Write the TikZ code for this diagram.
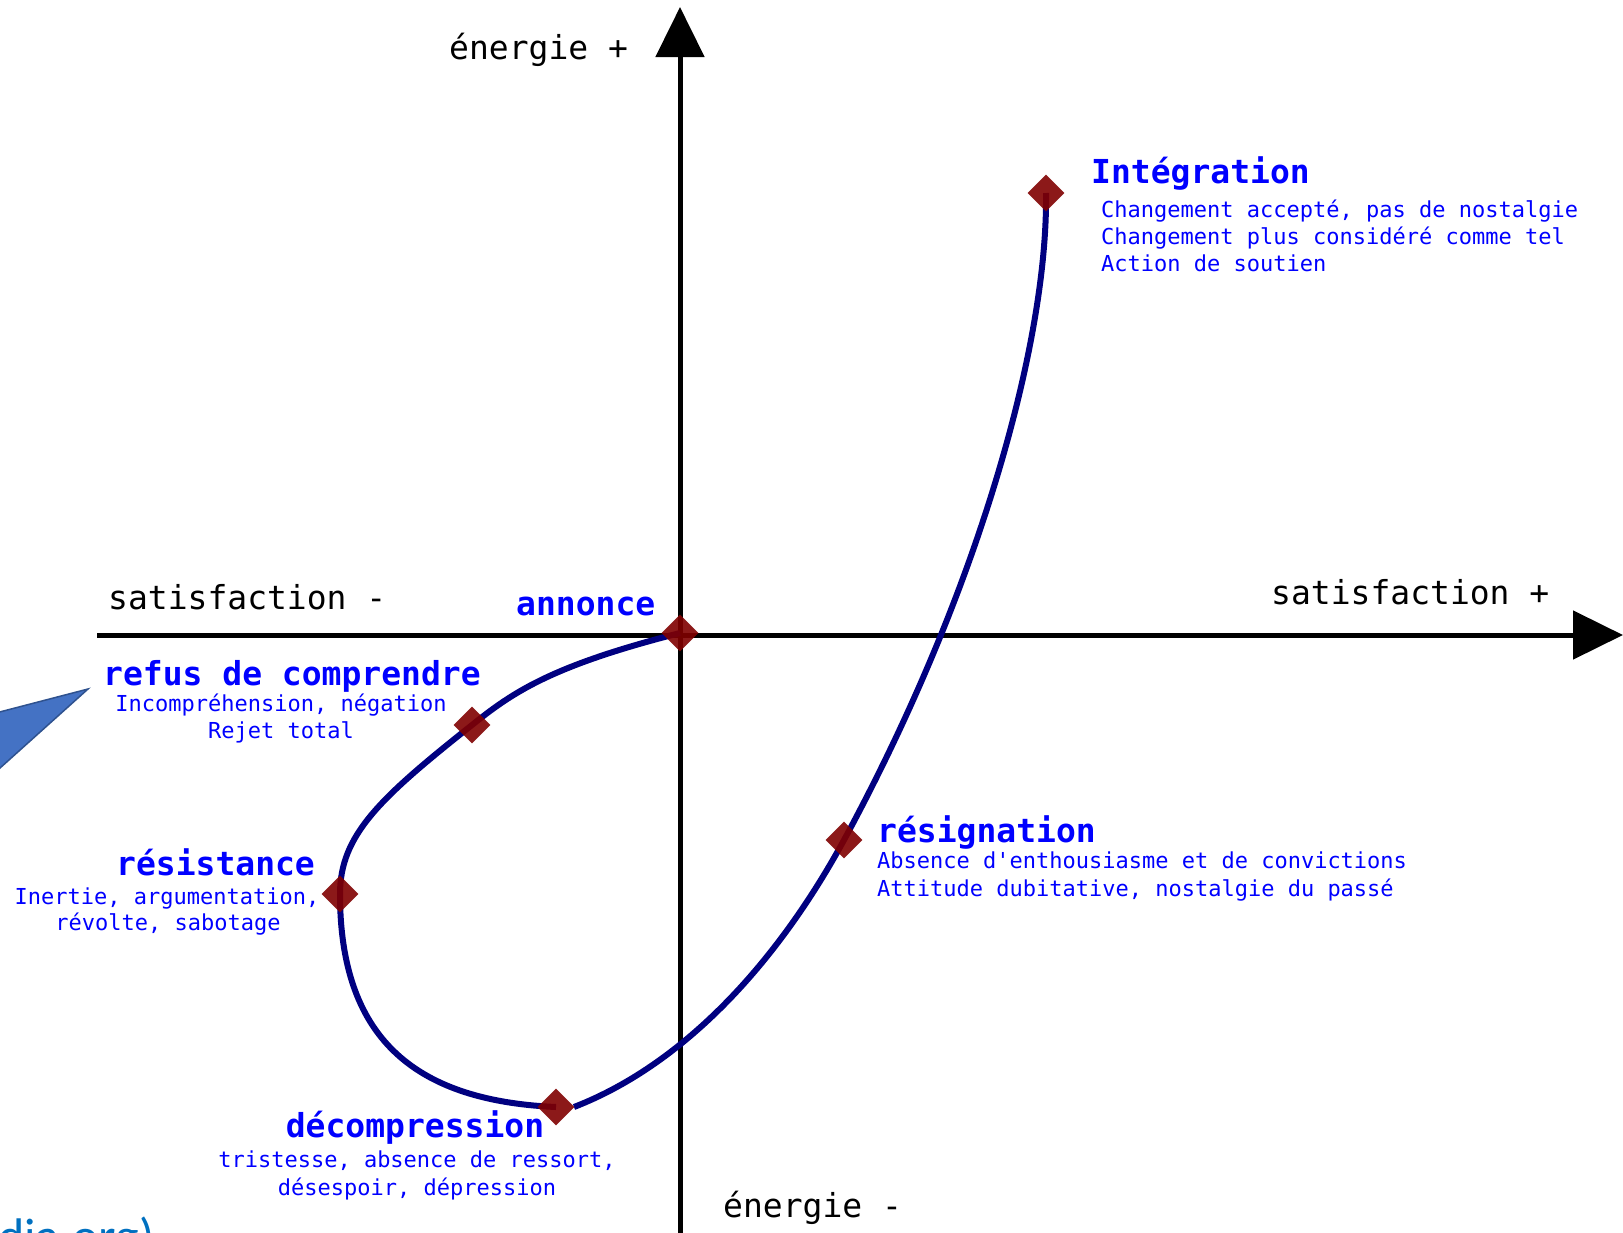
\documentclass[tikz,border=0pt]{standalone}
\usepackage{fontspec}
\setmonofont{DejaVu Sans Mono}
\newfontfamily\linkfont{Carlito}
\usetikzlibrary{shapes.geometric,arrows.meta}
\definecolor{curvenavy}{RGB}{0,0,128}
\definecolor{markred}{RGB}{128,0,0}
\definecolor{labelblue}{RGB}{0,0,255}
\definecolor{calloutfill}{RGB}{68,114,196}
\definecolor{calloutline}{RGB}{47,82,143}
\definecolor{linkblue}{RGB}{0,112,192}
\begin{document}
\begin{tikzpicture}[x=1pt,y=-1pt,
  axisline/.style={line width=5pt, -{Triangle[length=50pt,width=48pt]}},
  loopcurve/.style={line width=6pt, draw=curvenavy},
  marker/.style={diamond, minimum size=37pt, inner sep=0pt, fill=markred, fill opacity=0.9},
  axlabel/.style={inner sep=0pt, font=\ttfamily\fontsize{33}{40}\selectfont},
  stagetitle/.style={inner sep=0pt, text=labelblue, font=\ttfamily\bfseries\fontsize{33}{40}\selectfont},
  stagesub/.style={inner sep=0pt, text=labelblue, font=\ttfamily\fontsize{22}{27}\selectfont},
]
\useasboundingbox (0,0) rectangle (1623,1232);
\clip (0,0) rectangle (1623,1232);
\fill[white] (0,0) rectangle (1623,1232);

% callout tail at the left edge
\filldraw[fill=calloutfill, draw=calloutline, line width=1.5pt]
  (88,689) -- (-10,714.5) -- (-10,777) -- cycle;
\node[inner sep=0pt, anchor=base west, text=linkblue, font=\linkfont\fontsize{50}{56}\selectfont] (link) at (-2,1253) {dia.org)};

% axes
\coordinate (xL) at (97,635);
\coordinate (xR) at (1623,635);
\coordinate (yB) at (680,1240);
\coordinate (yT) at (680,7);
\draw[axisline] (xL) -- (xR);
\draw[axisline] (yB) -- (yT);

% axis labels
\node[axlabel, anchor=base west] (eplus) at (449,59) {énergie +};
\node[axlabel, anchor=base west] (eminus) at (723,1217) {énergie -};
\node[axlabel, anchor=base west] (sminus) at (108,609) {satisfaction -};
\node[axlabel, anchor=base west] (splus) at (1271,604) {satisfaction +};

% stage points
\coordinate (pAnn) at (680,633);
\coordinate (pRef) at (472,725);
\coordinate (pRes) at (340,894);
\coordinate (pDec) at (556,1107);
\coordinate (pDecE) at (574,1107);
\coordinate (pSig) at (844,840);
\coordinate (pInt) at (1046,193);

% curve
\draw[loopcurve] (pAnn) .. controls (550,666) and (512,693) .. (pRef)
  .. controls (380,798) and (340,835) .. (pRes)
  .. controls (340,1043) and (420,1101) .. (pDec);
\draw[loopcurve] (pDecE) .. controls (690,1062) and (782,954) .. (pSig)
  .. controls (980,589) and (1048,340) .. (pInt);

% markers
\node[marker] (mAnn) at (pAnn) {};
\node[marker] (mRef) at (pRef) {};
\node[marker] (mRes) at (pRes) {};
\node[marker] (mDec) at (pDec) {};
\node[marker] (mSig) at (pSig) {};
\node[marker] (mInt) at (pInt) {};

% labels
\node[stagetitle, anchor=base west] (tAnn) at (516,615) {annonce};

\node[stagetitle, anchor=base west] (tInt) at (1091,183) {Intégration};
\node[stagesub, anchor=base west] (sInt1) at (1101,217) {Changement accepté, pas de nostalgie};
\node[stagesub, anchor=base west] (sInt2) at (1101,244) {Changement plus considéré comme tel};
\node[stagesub, anchor=base west] (sInt3) at (1101,271) {Action de soutien};

\node[stagetitle, anchor=base west] (tRef) at (103,685) {refus de comprendre};
\node[stagesub, anchor=base] (sRef1) at (281,711) {Incompréhension, négation};
\node[stagesub, anchor=base] (sRef2) at (281,738) {Rejet total};

\node[stagetitle, anchor=base west] (tRes) at (116,875) {résistance};
\node[stagesub, anchor=base] (sRes1) at (167,904) {Inertie, argumentation,};
\node[stagesub, anchor=base] (sRes2) at (168,930) {révolte, sabotage};

\node[stagetitle, anchor=base] (tDec) at (415,1137) {décompression};
\node[stagesub, anchor=base] (sDec1) at (417,1167) {tristesse, absence de ressort,};
\node[stagesub, anchor=base] (sDec2) at (417,1195) {désespoir, dépression};

\node[stagetitle, anchor=base west] (tSig) at (877,842) {résignation};
\node[stagesub, anchor=base west] (sSig1) at (877,868) {Absence d'enthousiasme et de convictions};
\node[stagesub, anchor=base west] (sSig2) at (877,896) {Attitude dubitative, nostalgie du passé};
\end{tikzpicture}
\end{document}
